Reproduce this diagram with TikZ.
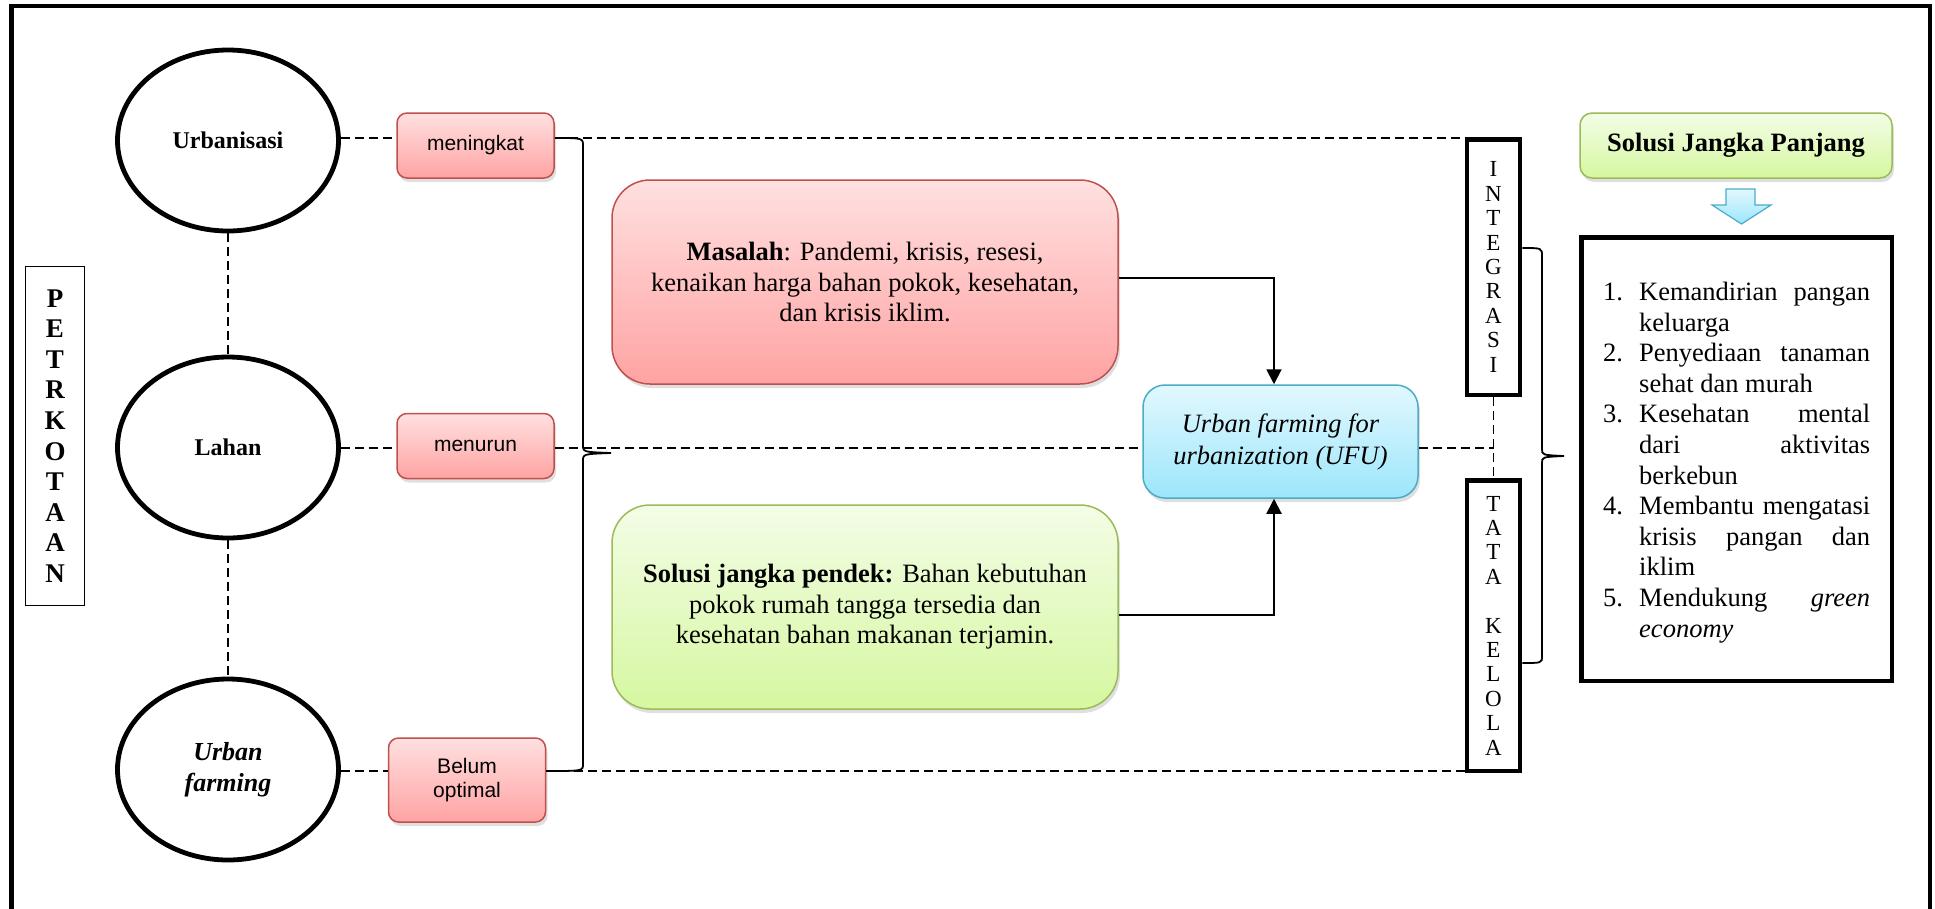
\documentclass[tikz,border=0pt]{standalone}
\usepackage{fontspec}
\setmainfont{Liberation Serif}
\newfontfamily\arialfont{Liberation Sans}
\usetikzlibrary{arrows.meta,shadows,shapes.geometric,calc}
\definecolor{pinktop}{HTML}{FFE0E0}
\definecolor{pinkbot}{HTML}{FFA3A3}
\definecolor{pinkdraw}{HTML}{C0504D}
\definecolor{greentop}{HTML}{F3FDE6}
\definecolor{greenbot}{HTML}{D6F7A0}
\definecolor{greendraw}{HTML}{9BBB59}
\definecolor{bluetop}{HTML}{E2F8FE}
\definecolor{bluebot}{HTML}{9CE6FB}
\definecolor{bluedraw}{HTML}{4BACC6}
\tikzset{
  dashline/.style={line width=1.6pt, dash pattern=on 9pt off 5pt},
  braceline/.style={line width=1.8pt},
  arrowline/.style={line width=2pt, -{Triangle[width=15pt,length=15pt]}},
  circ/.style={ellipse, draw, line width=4.8pt, minimum width=221pt, minimum height=181pt,
    inner sep=0pt, align=center, font=\fontsize{24}{28}\selectfont\bfseries},
  softshadow/.style={drop shadow={opacity=0.25, shadow xshift=2pt, shadow yshift=-4pt}},
  pinksmall/.style={rectangle, rounded corners=10pt, draw=pinkdraw, line width=1.5pt,
    top color=pinktop, bottom color=pinkbot, minimum width=157pt, minimum height=65pt,
    inner sep=0pt, align=center, font=\arialfont\fontsize{21}{24}\selectfont, softshadow},
  bigbox/.style={rectangle, rounded corners=38pt, line width=1.5pt,
    minimum width=506pt, minimum height=204pt, inner sep=0pt, align=center,
    font=\fontsize{26.5}{30.5}\selectfont, softshadow},
  redbox/.style={bigbox, draw=pinkdraw, top color=pinktop, bottom color=pinkbot},
  greenbox/.style={bigbox, draw=greendraw, top color=greentop, bottom color=greenbot},
  bluebox/.style={rectangle, rounded corners=22pt, line width=1.5pt, draw=bluedraw,
    top color=bluetop, bottom color=bluebot, minimum width=275pt, minimum height=113pt,
    inner sep=0pt, align=center, font=\fontsize{26.5}{32}\selectfont\itshape, softshadow},
  vertbox/.style={rectangle, draw, line width=4.5pt, minimum width=53pt, inner sep=0pt,
    align=center, font=\fontsize{23}{24.4}\selectfont},
  titlebox/.style={rectangle, rounded corners=12pt, line width=1.5pt, draw=greendraw,
    top color=greentop, bottom color=greenbot, minimum width=312pt, minimum height=65pt,
    inner sep=0pt, align=center, font=\fontsize{26.5}{30}\selectfont\bfseries, softshadow},
}
\begin{document}
\begin{tikzpicture}[x=1pt,y=-1pt]
\useasboundingbox (0,0) rectangle (1935,908);
% outer frame
\draw[line width=4.5pt] (11.5,930) -- (11.5,6) -- (1930,6) -- (1930,930);

% reference rows
\coordinate (r1) at (0,138);
\coordinate (r2) at (0,448);
\coordinate (r3) at (0,771);

% left label
\node[rectangle, draw, line width=1.3pt, minimum width=59pt, minimum height=339pt, inner sep=0pt,
  align=center, font=\fontsize{27}{30.6}\selectfont\bfseries] (pet) at (55,436)
  {P\\E\\T\\R\\K\\O\\T\\A\\A\\N};

% circles
\node[circ] (urb) at (228,140.5) {Urbanisasi};
\node[circ] (lah) at (228,447.5) {Lahan};
\node[circ, font=\fontsize{26}{31}\selectfont\bfseries\itshape] (uf) at (228,769.5) {Urban\\farming};

% small pink boxes
\node[pinksmall] (m1) at (475.5,145.5) {meningkat};
\node[pinksmall] (m2) at (475.5,446) {menurun};
\node[pinksmall, minimum height=84pt] (m3) at (467,780) {Belum\\optimal};

% big boxes
\node[redbox] (mas) at (865,282) {\textbf{Masalah}: Pandemi, krisis, resesi,\\kenaikan harga bahan pokok, kesehatan,\\dan krisis iklim.};
\node[greenbox] (grn) at (865,607) {\textbf{Solusi jangka pendek:} Bahan kebutuhan\\pokok rumah tangga tersedia dan\\kesehatan bahan makanan terjamin.};
\node[bluebox] (ufu) at (1280.5,441.5) {Urban farming for\\urbanization (UFU)};

% vertical boxes
\node[vertbox, minimum height=255.5pt] (integ) at (1493.5,267) {I\\N\\T\\E\\G\\R\\A\\S\\I};
\node[vertbox, minimum height=290.5pt] (tata) at (1493.5,625.5) {T\\A\\T\\A\\[24.4pt]K\\E\\L\\O\\L\\A};

% right side
\node[titlebox] (sjp) at (1736,145.5) {Solusi Jangka Panjang};
\shade[top color=bluetop, bottom color=bluebot, draw=bluedraw, line width=1.2pt]
  (1726,189) -- (1755,189) -- (1755,205) -- (1771,205) -- (1741.5,224) -- (1712,205) -- (1726,205) -- cycle;
\node[rectangle, draw, line width=4.5pt, minimum width=310.5pt, minimum height=443.5pt, inner sep=0pt] (lbox) at (1736.5,459) {};
\node[anchor=north west, inner sep=0pt, align=left, font=\fontsize{26.5}{30.6}\selectfont] (lst) at (1603,282) {%
\makebox[36pt][l]{1.}\makebox[231pt][s]{Kemandirian pangan}\\
\hspace*{36pt}keluarga\\
\makebox[36pt][l]{2.}\makebox[231pt][s]{Penyediaan tanaman}\\
\hspace*{36pt}sehat dan murah\\
\makebox[36pt][l]{3.}\makebox[231pt][s]{Kesehatan mental}\\
\hspace*{36pt}\makebox[231pt][s]{dari aktivitas}\\
\hspace*{36pt}berkebun\\
\makebox[36pt][l]{4.}\makebox[231pt][s]{Membantu mengatasi}\\
\hspace*{36pt}\makebox[231pt][s]{krisis pangan dan}\\
\hspace*{36pt}iklim\\
\makebox[36pt][l]{5.}\makebox[231pt][s]{Mendukung \textit{green}}\\
\hspace*{36pt}\textit{economy}};

% dashed connectors
\draw[dashline] (urb) -- (lah);
\draw[dashline] (lah) -- (uf);
\draw[dashline] (urb.east |- r1) -- (m1.west |- r1);
\draw[dashline] (m1.east |- r1) -- (integ.west |- r1);
\draw[dashline] (lah.east |- r2) -- (m2.west |- r2);
\draw[dashline] (m2.east |- r2) -- (ufu.west |- r2);
\draw[dashline] (ufu.east |- r2) -- (integ.south |- r2);
\draw[dashline] (integ.south) -- (tata.north);
\draw[dashline] (uf.east |- r3) -- (m3.west |- r3);
\draw[dashline] (m3.east |- r3) -- (tata.west |- r3);

% braces
\draw[braceline] (m1.east |- r1) .. controls (583,138) .. (583,146) -- (583,445)
  .. controls (583,452) .. (611,453) .. controls (583,454) .. (583,461) -- (583,764)
  .. controls (583,771) .. (m3.east |- r3);
\coordinate (b2a) at (0,248);
\coordinate (b2b) at (0,663);
\draw[braceline] (integ.east |- b2a) .. controls (1542,248) .. (1542,256) -- (1542,449)
  .. controls (1542,455) .. (1564,456) .. controls (1542,457) .. (1542,463) -- (1542,656)
  .. controls (1542,663) .. (tata.east |- b2b);

% arrows
\draw[arrowline] ([yshift=4pt]mas.east) -| ([xshift=-6.5pt]ufu.north);
\draw[arrowline] ([yshift=-8pt]grn.east) -| ([xshift=-6.5pt]ufu.south);
\end{tikzpicture}
\end{document}
